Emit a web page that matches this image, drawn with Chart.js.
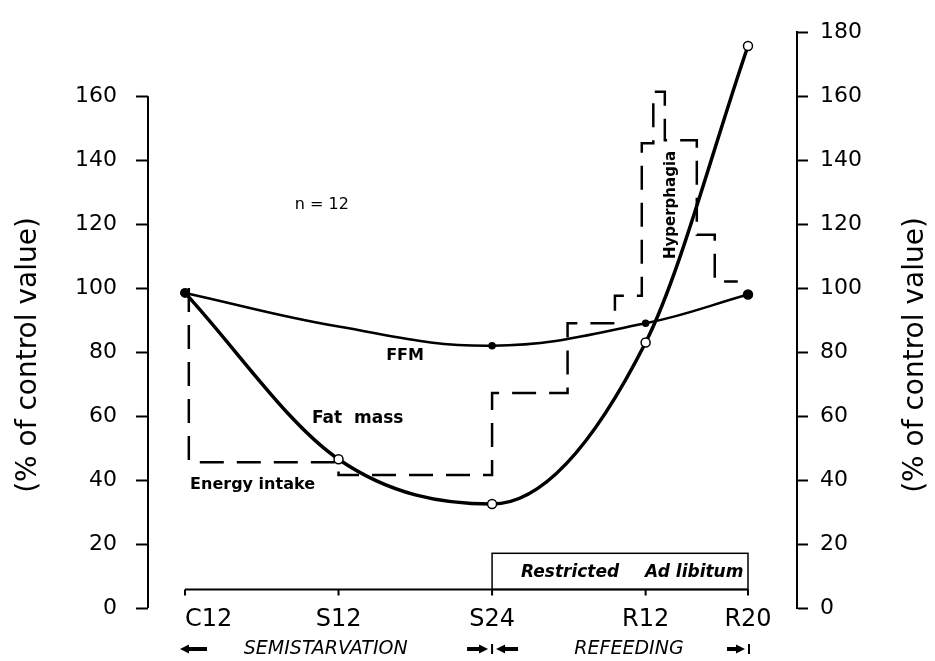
<!DOCTYPE html>
<html>
<head>
<meta charset="utf-8">
<script src="https://cdn.jsdelivr.net/npm/chart.js@4.4.1/dist/chart.umd.min.js"></script>
<style>
  html, body { margin: 0; padding: 0; background: #fff; }
  #wrap { width: 935px; height: 661px; }
</style>
</head>
<body>
<div id="wrap"><canvas id="chart"></canvas></div>
<script>
// time axis in weeks from the start (C12 = control)
const phaseLabels = ['C12', 'S12', 'S24', 'R12', 'R20'];
const phaseWeeks = [0, 12, 24, 36, 44];

// % of control value
const fatMass = [98.5, 46.5, 32.5, 83, 175.7];
const ffm = [98.5, 88, 82, 89, 98];

// energy intake, drawn as steps
const energyWeeks = [0.3, 0.3, 12, 24, 29.9, 33.6, 35.7, 36.6, 37.5, 40, 41.4, 43.2];
const energyIntake = [100, 45.6, 41.6, 67.2, 89, 97.6, 145.3, 161.4, 146.2, 116.7, 102.1, 102.1];

const leftMax = 160;   // the left axis stops at 160
const rightMax = 180;
const xMin = -2.89, xMax = 47.83;
const axisLevel = 5.8; // the time axis floats a bit above zero
const boxTop = 17.1;

// texts placed in data coordinates (week, value)
const notes = [
  { text: 'n = 12', x: 10.7, y: 126, font: '16px "DejaVu Sans"', align: 'center' },
  { text: 'FFM', x: 17.2, y: 78.7, font: 'bold 16px "DejaVu Sans"', align: 'center' },
  { text: 'Fat  mass', x: 13.5, y: 59.3, font: 'bold 17px "DejaVu Sans"', align: 'center' },
  { text: 'Energy intake', x: 0.4, y: 38.6, font: 'bold 16px "DejaVu Sans"', align: 'left' },
  { text: 'Restricted', x: 30.1, y: 11, font: 'italic bold 17px "DejaVu Sans"', align: 'center' },
  { text: 'Ad libitum', x: 39.8, y: 11, font: 'italic bold 17px "DejaVu Sans"', align: 'center' }
];

function arrow(ctx, from, to, yy) {
  const dir = Math.sign(to - from);
  ctx.lineWidth = 4;
  ctx.beginPath(); ctx.moveTo(from, yy); ctx.lineTo(to - dir * 6, yy); ctx.stroke();
  ctx.beginPath();
  ctx.moveTo(to, yy); ctx.lineTo(to - dir * 9, yy - 4.5); ctx.lineTo(to - dir * 9, yy + 4.5);
  ctx.closePath(); ctx.fill();
}

function vText(ctx, text, cx, cy, font) {
  ctx.save();
  ctx.translate(cx, cy);
  ctx.rotate(-Math.PI / 2);
  ctx.font = font;
  ctx.textAlign = 'center';
  ctx.textBaseline = 'middle';
  ctx.fillText(text, 0, 0);
  ctx.restore();
}

const extras = {
  id: 'extras',
  afterDraw(chart) {
    const { ctx, scales: { x, y } } = chart;
    ctx.save();
    ctx.strokeStyle = '#000';
    ctx.fillStyle = '#000';

    // left axis line, only up to 160
    ctx.lineWidth = 2;
    ctx.beginPath();
    ctx.moveTo(x.left, y.getPixelForValue(0));
    ctx.lineTo(x.left, y.getPixelForValue(leftMax));
    ctx.stroke();

    // time axis with its small ticks
    const yb = y.getPixelForValue(axisLevel);
    const x0 = x.getPixelForValue(phaseWeeks[0]);
    const x1 = x.getPixelForValue(phaseWeeks[phaseWeeks.length - 1]);
    ctx.beginPath();
    ctx.moveTo(x0, yb); ctx.lineTo(x1, yb);
    phaseWeeks.forEach(w => {
      const px = x.getPixelForValue(w);
      ctx.moveTo(px, yb); ctx.lineTo(px, yb + 6);
    });
    ctx.stroke();

    // Restricted / Ad libitum box
    const bx = x.getPixelForValue(phaseWeeks[2]);
    const by = y.getPixelForValue(boxTop);
    ctx.lineWidth = 1.5;
    ctx.strokeRect(bx, by, x1 - bx, yb - by);

    notes.forEach(n => {
      ctx.font = n.font;
      ctx.textAlign = n.align;
      ctx.textBaseline = 'middle';
      ctx.fillText(n.text, x.getPixelForValue(n.x), y.getPixelForValue(n.y));
    });
    vText(ctx, 'Hyperphagia', x.getPixelForValue(38), y.getPixelForValue(126), 'bold 15px "DejaVu Sans"');

    // axis titles, both read bottom to top
    vText(ctx, '(% of control value)', 29, 355, '28px "DejaVu Sans"');
    vText(ctx, '(% of control value)', 916, 355, '28px "DejaVu Sans"');

    // phase labels under the axis
    const py = 649;
    const s24 = x.getPixelForValue(phaseWeeks[2]);
    ctx.font = 'italic 19px "DejaVu Sans"';
    ctx.textAlign = 'center';
    ctx.textBaseline = 'middle';
    ctx.fillText('SEMISTARVATION', x.getPixelForValue(11), py);
    ctx.fillText('REFEEDING', x.getPixelForValue(34.7), py);
    arrow(ctx, x0 + 22, x0 - 5, py);
    arrow(ctx, s24 - 25, s24 - 4, py);
    arrow(ctx, s24 + 26, s24 + 4, py);
    arrow(ctx, x1 - 21, x1 - 3, py);
    ctx.lineWidth = 2;
    ctx.beginPath();
    ctx.moveTo(s24, py - 5); ctx.lineTo(s24, py + 5);
    ctx.moveTo(x1 + 1, py - 5); ctx.lineTo(x1 + 1, py + 5);
    ctx.stroke();
    ctx.restore();
  }
};

Chart.defaults.font.family = '"DejaVu Sans"';
Chart.defaults.color = '#000';

const tickFont = { family: 'DejaVu Sans', size: 22 };

new Chart(document.getElementById('chart'), {
  type: 'line',
  data: {
    datasets: [
      {
        label: 'Energy intake',
        data: energyWeeks.map((w, i) => ({ x: w, y: energyIntake[i] })),
        stepped: 'before',
        borderColor: '#000',
        borderWidth: 2.5,
        borderDash: [24, 13],
        pointRadius: 0,
        fill: false
      },
      {
        label: 'FFM',
        data: phaseWeeks.map((w, i) => ({ x: w, y: ffm[i] })),
        tension: 0.4,
        borderColor: '#000',
        borderWidth: 2.5,
        pointRadius: [3.5, 0, 2.5, 2.5, 4],
        pointBackgroundColor: '#000',
        pointBorderColor: '#000',
        fill: false
      },
      {
        label: 'Fat mass',
        data: phaseWeeks.map((w, i) => ({ x: w, y: fatMass[i] })),
        cubicInterpolationMode: 'monotone',
        borderColor: '#000',
        borderWidth: 3.5,
        pointRadius: [4, 4.5, 4.5, 4.5, 4.5],
        pointBackgroundColor: ['#000', '#fff', '#fff', '#fff', '#fff'],
        pointBorderColor: '#000',
        pointBorderWidth: 1.5,
        fill: false
      }
    ]
  },
  options: {
    responsive: true,
    maintainAspectRatio: false,
    animation: false,
    layout: { padding: { top: 19, left: 0, right: 0, bottom: 0 } },
    plugins: {
      legend: { display: false },
      tooltip: { enabled: false }
    },
    scales: {
      x: {
        type: 'linear',
        min: xMin,
        max: xMax,
        afterFit: s => { s.height = 53; },
        border: { display: false },
        grid: { display: false, drawTicks: false },
        afterBuildTicks: s => { s.ticks = phaseWeeks.concat([xMax]).map(v => ({ value: v })); },
        ticks: {
          autoSkip: false,
          maxRotation: 0,
          align: 'inner',
          padding: 0,
          font: { family: 'DejaVu Sans', size: 24, lineHeight: 1 },
          callback: (v, i) => phaseLabels[i] ?? ''
        }
      },
      y: {
        position: 'left',
        min: 0,
        max: rightMax,
        afterFit: s => { s.width = 148; },
        border: { display: false },
        grid: {
          drawOnChartArea: false,
          tickLength: 12,
          tickWidth: 2,
          tickColor: c => (c.tick && c.tick.value > leftMax) ? 'rgba(0,0,0,0)' : '#000'
        },
        ticks: {
          stepSize: 20,
          padding: 19,
          font: tickFont,
          callback: v => v > leftMax ? '' : v
        }
      },
      y2: {
        position: 'right',
        min: 0,
        max: rightMax,
        afterFit: s => { s.width = 138; },
        border: { display: true, color: '#000', width: 2 },
        grid: { drawOnChartArea: false, tickLength: 11, tickWidth: 2, tickColor: '#000' },
        ticks: { stepSize: 20, padding: 12, font: tickFont }
      }
    }
  },
  plugins: [extras]
});
</script>
</body>
</html>
